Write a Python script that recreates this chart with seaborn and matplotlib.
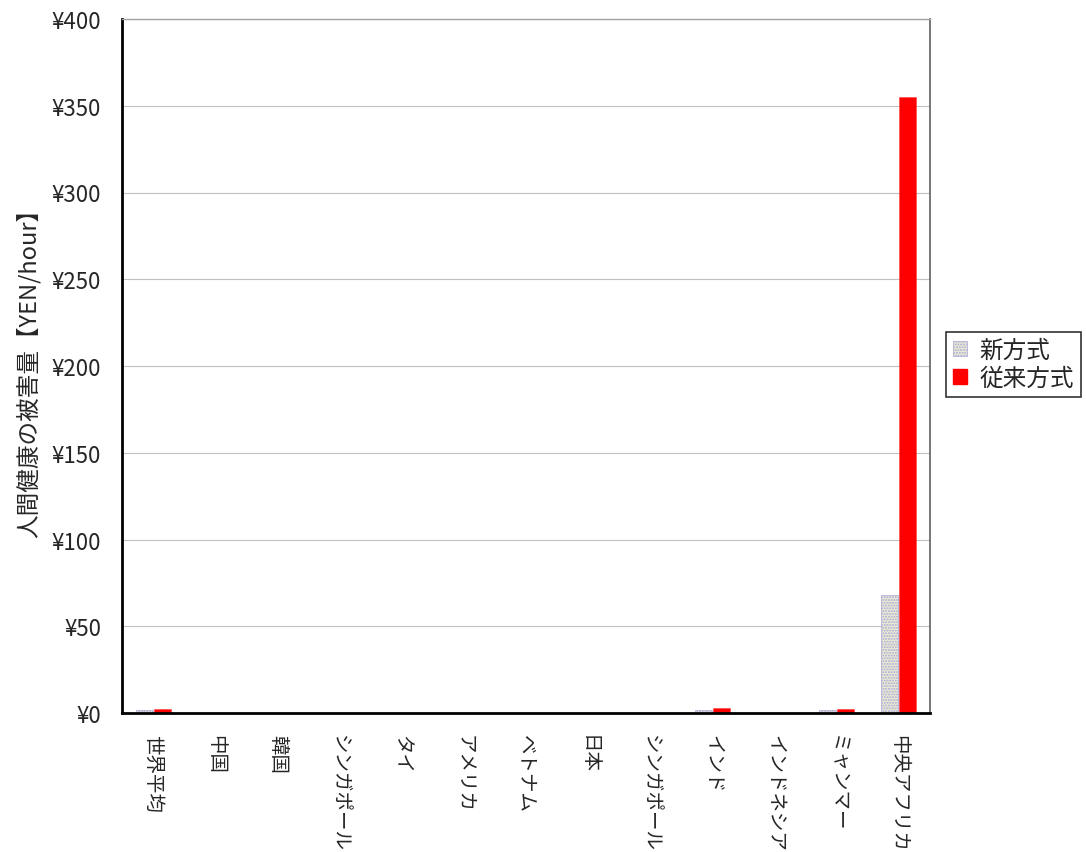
import matplotlib
matplotlib.use("Agg")
import matplotlib.pyplot as plt
from matplotlib.patches import Patch
from matplotlib.ticker import FuncFormatter, MultipleLocator
import numpy as np
import pandas as pd
import seaborn as sns

# Damage to human health per hour of operation, by region
region_keys = ["世界平均", "中国", "韓国", "シンガポール1", "タイ", "アメリカ", "ベトナム",
               "日本", "シンガポール2", "インド", "インドネシア", "ミャンマー", "中央アフリカ"]
tick_labels = ["世界平均", "中国", "韓国", "シンガポール", "タイ", "アメリカ", "ベトナム",
               "日本", "シンガポール", "インド", "インドネシア", "ミャンマー", "中央アフリカ"]
new_method = [1.5, 0, 0, 0, 0, 0, 0, 0, 0, 1.5, 0, 1.5, 68]
old_method = [2.2, 0, 0, 0, 0, 0, 0, 0, 0, 3.0, 0, 2.3, 355]
series_names = ["新方式", "従来方式"]

df = pd.DataFrame({
    "region": region_keys * 2,
    "method": [series_names[0]] * len(region_keys) + [series_names[1]] * len(region_keys),
    "value": new_method + old_method,
})

sns.set_theme(style="white")
plt.rcParams["font.family"] = ["Noto Sans CJK JP", "DejaVu Sans"]

fig = plt.figure(figsize=(10.86, 8.53), dpi=100)
ax = fig.add_axes([122 / 1086, 1 - 714 / 853, 808 / 1086, 694 / 853])

palette = {series_names[0]: "#ececd4", series_names[1]: "#ff0000"}
sns.barplot(data=df, x="region", y="value", hue="method", order=region_keys,
            hue_order=series_names, palette=palette, width=0.58, gap=0.05,
            saturation=1, ax=ax, legend=False)

# dotted fill on the new-method bars, thin outline on all
n = len(region_keys)
for i, bar in enumerate(ax.patches):
    if i < n:
        bar.set_hatch("......")
        bar.set_edgecolor("#a8a8d8")
        bar.set_linewidth(0.5)
    else:
        bar.set_edgecolor("#ff4040")
        bar.set_linewidth(0.4)

ax.set_ylim(0, 400)
ax.set_xlim(-0.5, n - 0.5)
ax.yaxis.set_major_locator(MultipleLocator(50))
ax.yaxis.set_major_formatter(FuncFormatter(lambda v, _: f"¥{int(v)}"))
ax.grid(axis="y", color="#c0c0c0", linewidth=0.8)
ax.set_axisbelow(True)

# tick marks at category boundaries, labels centred on each category
ax.set_xticks(np.arange(n))
ax.set_xticklabels(tick_labels, rotation=-90, ha="center", va="top", fontsize=14)
ax.set_xticks(np.arange(n + 1) - 0.5, minor=True)
ax.tick_params(axis="x", which="major", length=0, pad=15)
ax.tick_params(axis="x", which="minor", length=5, width=1.5, color="black", direction="in")
ax.tick_params(axis="y", which="major", length=3, width=1.5, color="black",
               direction="out", labelsize=16, pad=12)

ax.set_xlabel("")
ax.set_ylabel("人間健康の被害量【YEN/hour】", fontsize=17, labelpad=8)

for side in ["left", "bottom"]:
    ax.spines[side].set_color("black")
    ax.spines[side].set_linewidth(2)
ax.spines["top"].set_color("#a0a0a0")
ax.spines["top"].set_linewidth(1)
ax.spines["right"].set_color("#606060")
ax.spines["right"].set_linewidth(1.2)

handles = [Patch(facecolor=palette[series_names[0]], edgecolor="#a8a8d8", hatch="......", linewidth=0.5),
           Patch(facecolor=palette[series_names[1]], edgecolor="#ff0000")]
leg = fig.legend(handles, series_names, loc="upper left",
                 bbox_to_anchor=(946 / 1086, 1 - 333 / 853), frameon=True,
                 fontsize=17, handlelength=0.6, handleheight=0.6,
                 handletextpad=0.5, borderpad=0.3, labelspacing=0.2,
                 borderaxespad=0, fancybox=False)
leg.get_frame().set_edgecolor("black")
leg.get_frame().set_linewidth(1.2)

fig.savefig("out.png", dpi=100)
